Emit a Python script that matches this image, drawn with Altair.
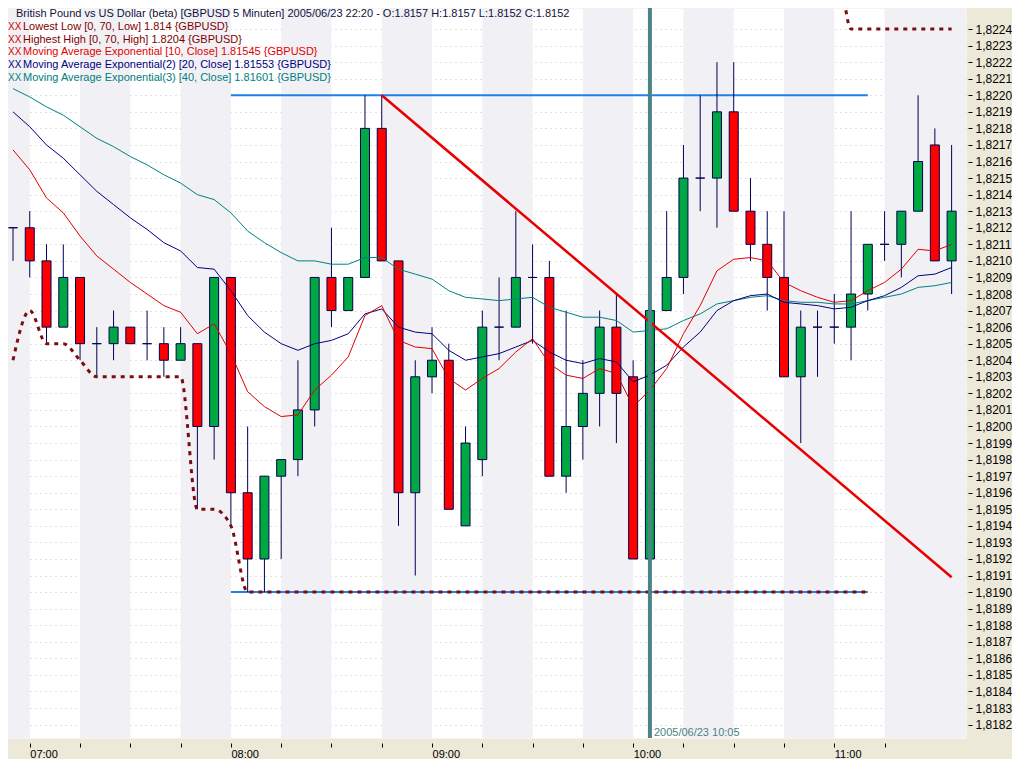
import altair as alt
import pandas as pd

DAY = "2005-06-23"

times = [
    "06:55",
    "07:00", "07:05", "07:10", "07:15", "07:20", "07:25", "07:30", "07:35", "07:40", "07:45", "07:50", "07:55",
    "08:00", "08:05", "08:10", "08:15", "08:20", "08:25", "08:30", "08:35", "08:40", "08:45", "08:50", "08:55",
    "09:00", "09:05", "09:10", "09:15", "09:20", "09:25", "09:30", "09:35", "09:40", "09:45", "09:50", "09:55",
    "10:00", "10:05", "10:10", "10:15", "10:20", "10:25", "10:30", "10:35", "10:40", "10:45", "10:50", "10:55",
    "11:00", "11:05", "11:10", "11:15", "11:20", "11:25", "11:30", "11:35",
]

opens = [
    1.8212, 1.8212, 1.8210, 1.8206, 1.8209, 1.8205, 1.8205, 1.8206, 1.8205, 1.8205, 1.8204, 1.8205, 1.8200,
    1.8209, 1.8196, 1.8192, 1.8197, 1.8198, 1.8201, 1.8209, 1.8207, 1.8209, 1.8218, 1.8210, 1.8196,
    1.8203, 1.8204, 1.8194, 1.8198, 1.8206, 1.8206, 1.8209, 1.8209, 1.8197, 1.8200, 1.8202, 1.8206,
    1.8203, 1.8192, 1.8207, 1.8209, 1.8215, 1.8215, 1.8219, 1.8213, 1.8211, 1.8209, 1.8203, 1.8206,
    1.8206, 1.8206, 1.8208, 1.8211, 1.8211, 1.8213, 1.8217, 1.8210,
]
highs = [
    1.8212, 1.8213, 1.8211, 1.8211, 1.8209, 1.8206, 1.8207, 1.8206, 1.8207, 1.8206, 1.8206, 1.8205, 1.8209,
    1.8209, 1.8200, 1.8197, 1.8198, 1.8204, 1.8209, 1.8212, 1.8209, 1.8220, 1.8220, 1.8210, 1.8204,
    1.8206, 1.8205, 1.8200, 1.8207, 1.8209, 1.8213, 1.8211, 1.8210, 1.8207, 1.8204, 1.8207, 1.8208,
    1.8204, 1.8207, 1.8213, 1.8217, 1.8220, 1.8222, 1.8222, 1.8215, 1.8213, 1.8213, 1.8207, 1.8207,
    1.8208, 1.8213, 1.8211, 1.8213, 1.8213, 1.8220, 1.8218, 1.8217,
]
lows = [
    1.8210, 1.8209, 1.8205, 1.8206, 1.8204, 1.8203, 1.8204, 1.8205, 1.8204, 1.8203, 1.8204, 1.8195, 1.8198,
    1.8194, 1.8190, 1.8190, 1.8192, 1.8197, 1.8200, 1.8206, 1.8207, 1.8209, 1.8210, 1.8194, 1.8191,
    1.8202, 1.8195, 1.8194, 1.8197, 1.8204, 1.8206, 1.8205, 1.8197, 1.8196, 1.8198, 1.8200, 1.8199,
    1.8192, 1.8191, 1.8207, 1.8208, 1.8213, 1.8212, 1.8213, 1.8210, 1.8207, 1.8203, 1.8199, 1.8203,
    1.8205, 1.8204, 1.8207, 1.8210, 1.8209, 1.8213, 1.8210, 1.8208,
]
closes = [
    1.8212, 1.8210, 1.8206, 1.8209, 1.8205, 1.8205, 1.8206, 1.8205, 1.8205, 1.8204, 1.8205, 1.8200, 1.8209,
    1.8196, 1.8192, 1.8197, 1.8198, 1.8201, 1.8209, 1.8207, 1.8209, 1.8218, 1.8210, 1.8196, 1.8203,
    1.8204, 1.8195, 1.8199, 1.8206, 1.8206, 1.8209, 1.8209, 1.8197, 1.8200, 1.8202, 1.8206, 1.8202,
    1.8192, 1.8207, 1.8209, 1.8215, 1.8215, 1.8219, 1.8213, 1.8211, 1.8209, 1.8203, 1.8206, 1.8206,
    1.8206, 1.8208, 1.8211, 1.8211, 1.8213, 1.8216, 1.8210, 1.8213,
]

ema10 = [
    1.82167, 1.82155, 1.82138, 1.82129, 1.82115, 1.82103, 1.82095, 1.82087, 1.82080, 1.82073, 1.82069, 1.82056, 1.82062,
    1.82044, 1.82021, 1.82012, 1.82006, 1.82007, 1.82022, 1.82031, 1.82042, 1.82067, 1.82073, 1.82052, 1.82048,
    1.82047, 1.82029, 1.82022, 1.82029, 1.82035, 1.82045, 1.82053, 1.82038, 1.82031, 1.82029, 1.82035, 1.82032,
    1.82012, 1.82022, 1.82035, 1.82056, 1.82073, 1.82094, 1.82101, 1.82102, 1.82100, 1.82087, 1.82082, 1.82078,
    1.82075, 1.82076, 1.82082, 1.82087, 1.82095, 1.82107, 1.82106, 1.82110,
]
ema20 = [
    1.82190, 1.82181, 1.82170, 1.82162, 1.82152, 1.82142, 1.82134, 1.82126, 1.82119, 1.82111, 1.82106, 1.82096, 1.82095,
    1.82082, 1.82067, 1.82057, 1.82050, 1.82046, 1.82050, 1.82052, 1.82056, 1.82068, 1.82071, 1.82060, 1.82057,
    1.82056, 1.82046, 1.82040, 1.82042, 1.82044, 1.82048, 1.82052, 1.82045, 1.82040, 1.82038, 1.82041, 1.82039,
    1.82027, 1.82031, 1.82037, 1.82048, 1.82057, 1.82070, 1.82076, 1.82079, 1.82080, 1.82075, 1.82074, 1.82073,
    1.82071, 1.82072, 1.82076, 1.82079, 1.82084, 1.82091, 1.82092, 1.82096,
]
ema40 = [
    1.82204, 1.82199, 1.82193, 1.82188, 1.82181, 1.82174, 1.82169, 1.82163, 1.82158, 1.82152, 1.82147, 1.82140, 1.82137,
    1.82129, 1.82118, 1.82111, 1.82105, 1.82100, 1.82100, 1.82098, 1.82098, 1.82102, 1.82102, 1.82095, 1.82092,
    1.82089, 1.82082, 1.82078, 1.82077, 1.82076, 1.82077, 1.82078, 1.82072, 1.82069, 1.82066, 1.82066, 1.82064,
    1.82057, 1.82058, 1.82059, 1.82064, 1.82068, 1.82074, 1.82076, 1.82078, 1.82079, 1.82076, 1.82075, 1.82075,
    1.82074, 1.82074, 1.82076, 1.82078, 1.82080, 1.82084, 1.82085, 1.82087,
]

# Lowest Low indicator (bars 06:55 .. 11:10)
lowest_low = [
    1.8204, 1.8207, 1.8205, 1.8205, 1.8204, 1.8203, 1.8203, 1.8203, 1.8203, 1.8203, 1.8203, 1.8195, 1.8195,
    1.8194, 1.8190, 1.8190, 1.8190, 1.8190, 1.8190, 1.8190, 1.8190, 1.8190, 1.8190, 1.8190, 1.8190,
    1.8190, 1.8190, 1.8190, 1.8190, 1.8190, 1.8190, 1.8190, 1.8190, 1.8190, 1.8190, 1.8190, 1.8190,
    1.8190, 1.8190, 1.8190, 1.8190, 1.8190, 1.8190, 1.8190, 1.8190, 1.8190, 1.8190, 1.8190, 1.8190,
    1.8190, 1.8190, 1.8190,
]
# Highest High indicator (bars 10:50 .. 11:35), mostly above the visible range
hh_times = ["10:50", "10:55", "11:00", "11:05", "11:10", "11:15", "11:20", "11:25", "11:30", "11:35"]
highest_high = [1.8229, 1.8229, 1.8229, 1.8224, 1.8224, 1.8224, 1.8224, 1.8224, 1.8224, 1.8224]

# drawing objects
hline_start = ["08:00", "08:00"]
hline_end = ["11:10", "11:10"]
hline_price = [1.8220, 1.8190]
trend_times = ["08:45", "11:35"]
trend_prices = [1.8220, 1.81909]
cursor_time = ["10:05"]
cursor_label = ["2005/06/23 10:05"]

stripe_start = ["06:45", "07:15", "07:45", "08:15", "08:45", "09:15", "09:45", "10:15", "10:45", "11:15"]
stripe_end = ["07:00", "07:30", "08:00", "08:30", "09:00", "09:30", "10:00", "10:30", "11:00", "11:45"]

x_tick_times = ["07:00", "07:15", "07:30", "07:45", "08:00", "08:15", "08:30", "08:45", "09:00", "09:15",
                "09:30", "09:45", "10:00", "10:15", "10:30", "10:45", "11:00", "11:15"]
y_ticks = [
    1.8182, 1.8183, 1.8184, 1.8185, 1.8186, 1.8187, 1.8188, 1.8189, 1.8190, 1.8191, 1.8192, 1.8193, 1.8194,
    1.8195, 1.8196, 1.8197, 1.8198, 1.8199, 1.8200, 1.8201, 1.8202, 1.8203, 1.8204, 1.8205, 1.8206, 1.8207,
    1.8208, 1.8209, 1.8210, 1.8211, 1.8212, 1.8213, 1.8214, 1.8215, 1.8216, 1.8217, 1.8218, 1.8219, 1.8220,
    1.8221, 1.8222, 1.8223, 1.8224,
]

legend_prefix_colors = ["#d00000", "#d00000", "#e00000", "#000080", "#008080"]
legend_texts = [
    "Lowest Low [0, 70, Low] 1.814 {GBPUSD}",
    "Highest High [0, 70, High] 1.8204 {GBPUSD}",
    "Moving Average Exponential [10, Close] 1.81545 {GBPUSD}",
    "Moving Average Exponential(2) [20, Close] 1.81553 {GBPUSD}",
    "Moving Average Exponential(3) [40, Close] 1.81601 {GBPUSD}",
]
legend_colors = ["#800000", "#800000", "#e00000", "#000080", "#008080"]
title_text = "British Pound vs US Dollar (beta) [GBPUSD  5 Minuten] 2005/06/23 22:20 - O:1.8157 H:1.8157 L:1.8152 C:1.8152"

FONT = "Liberation Sans"


def iso(hm):
    return f"{DAY}T{hm}:00"


def dt(hm, sec=0):
    h, m = hm.split(":")
    return alt.DateTime(year=2005, month=6, date=23, hours=int(h), minutes=int(m), seconds=sec)


candles = pd.DataFrame({
    "t": [iso(t) for t in times],
    "open": opens, "high": highs, "low": lows, "close": closes,
    "ema10": ema10, "ema20": ema20, "ema40": ema40,
})
candles["dir"] = ["up" if c > o else ("down" if c < o else "flat") for o, c in zip(opens, closes)]

ll_df = pd.DataFrame({"t": [iso(t) for t in times[:len(lowest_low)]], "v": lowest_low})
hh_df = pd.DataFrame({"t": [iso(t) for t in hh_times], "v": highest_high})
hl_df = pd.DataFrame({"t1": [iso(t) for t in hline_start], "t2": [iso(t) for t in hline_end], "p": hline_price})
tr_df = pd.DataFrame({"t": [iso(t) for t in trend_times], "p": trend_prices})
cur_df = pd.DataFrame({"t": [iso(t) for t in cursor_time], "label": cursor_label})
st_df = pd.DataFrame({"s": [iso(t) for t in stripe_start], "e": [iso(t) for t in stripe_end]})

xscale = alt.Scale(domain=[dt("06:55", 0), dt("11:37", 48)])
yscale = alt.Scale(domain=[1.818119, 1.822527], zero=False, nice=False)

x_axis = alt.Axis(
    values=[dt(t) for t in x_tick_times],
    labelExpr="minutes(datum.value) == 0 ? timeFormat(datum.value, '%H:%M') : ''",
    title=None, grid=False, domain=False, ticks=True, tickSize=4, tickColor="#000000",
    offset=5, labelAlign="left", labelBaseline="top", labelPadding=1,
    labelFont=FONT, labelFontSize=11, labelColor="#000000", labelOverlap=False, labelFlush=False,
)
y_axis = alt.Axis(
    orient="right", values=y_ticks,
    labelExpr="replace(format(datum.value, '.4f'), '.', ',')",
    title=None, grid=True, gridColor="#c4c4cc", gridDash=[1, 4], gridWidth=1,
    domain=False, tickSize=4, tickColor="#000000", offset=2, labelPadding=3,
    labelFont=FONT, labelFontSize=12, labelColor="#000000", labelOverlap=False, labelFlush=False,
)


def X(field):
    return alt.X(field, type="temporal", scale=xscale, axis=x_axis)


def Y(field):
    return alt.Y(field, type="quantitative", scale=yscale, axis=y_axis)


stripes = alt.Chart(st_df).mark_rect(color="#f1f1f5", clip=True).encode(
    x=X("s"), x2=alt.X2("e"))

hlines = alt.Chart(hl_df).mark_rule(color="#1e80e8", strokeWidth=2, clip=True).encode(
    x=X("t1"), x2=alt.X2("t2"), y=Y("p"))

wicks = alt.Chart(candles).mark_rule(color="#000050", strokeWidth=1, clip=True).encode(
    x=X("t"), y=Y("low"), y2=alt.Y2("high"))

bodies = alt.Chart(candles).mark_bar(size=9, stroke="#000050", strokeWidth=1, clip=True).encode(
    x=X("t"), y=Y("open"), y2=alt.Y2("close"),
    color=alt.Color("dir:N", scale=alt.Scale(domain=["up", "down", "flat"],
                                             range=["#00a844", "#ff0000", "#000050"]), legend=None))

lowest = alt.Chart(ll_df).mark_line(color="#7a0e0e", strokeWidth=3, strokeDash=[4, 5],
                                    interpolate="monotone", clip=True).encode(x=X("t"), y=Y("v"))
highest = alt.Chart(hh_df).mark_line(color="#7a0e0e", strokeWidth=3, strokeDash=[4, 5],
                                     interpolate="monotone", clip=True).encode(x=X("t"), y=Y("v"))

e40 = alt.Chart(candles).mark_line(color="#008080", strokeWidth=1, clip=True).encode(x=X("t"), y=Y("ema40"))
e20 = alt.Chart(candles).mark_line(color="#000080", strokeWidth=1, clip=True).encode(x=X("t"), y=Y("ema20"))
e10 = alt.Chart(candles).mark_line(color="#e00000", strokeWidth=1, clip=True).encode(x=X("t"), y=Y("ema10"))

trend = alt.Chart(tr_df).mark_line(color="#e80000", strokeWidth=2.5, clip=True).encode(x=X("t"), y=Y("p"))

cursor = alt.Chart(cur_df).mark_rule(color="#4a8484", strokeWidth=4, clip=True).encode(x=X("t"))
cursor_txt = alt.Chart(cur_df).mark_text(align="left", baseline="middle", dx=4, font=FONT,
                                         fontSize=11, color="#4a8484").encode(
    x=X("t"), y=alt.YDatum(1.81815, type="quantitative", scale=yscale, axis=y_axis), text="label:N")

layers = [stripes, hlines, wicks, bodies, lowest, highest, e40, e20, e10, trend, cursor, cursor_txt]

title_layer = alt.Chart(pd.DataFrame({"s": [title_text]})).mark_text(
    align="left", baseline="alphabetic", font=FONT, fontSize=11, color="#10103c").encode(
    x=alt.value(8), y=alt.value(9), text="s:N")
layers.append(title_layer)

base_y = [22, 34.5, 47, 60, 73]
for txt, col, pcol, yy in zip(legend_texts, legend_colors, legend_prefix_colors, base_y):
    layers.append(alt.Chart(pd.DataFrame({"s": ["XX"]})).mark_text(
        align="left", baseline="alphabetic", font=FONT, fontSize=10, color=pcol).encode(
        x=alt.value(0), y=alt.value(yy), text="s:N"))
    layers.append(alt.Chart(pd.DataFrame({"s": [txt]})).mark_text(
        align="left", baseline="alphabetic", font=FONT, fontSize=11, color=col).encode(
        x=alt.value(15), y=alt.value(yy), text="s:N"))

chart = alt.layer(*layers).properties(
    width=958, height=730,
    padding=0,
    background="#ece9d8",
).configure_view(fill="white", stroke="transparent")

chart.save("out.html", embed_options={"renderer": "svg", "actions": False})
